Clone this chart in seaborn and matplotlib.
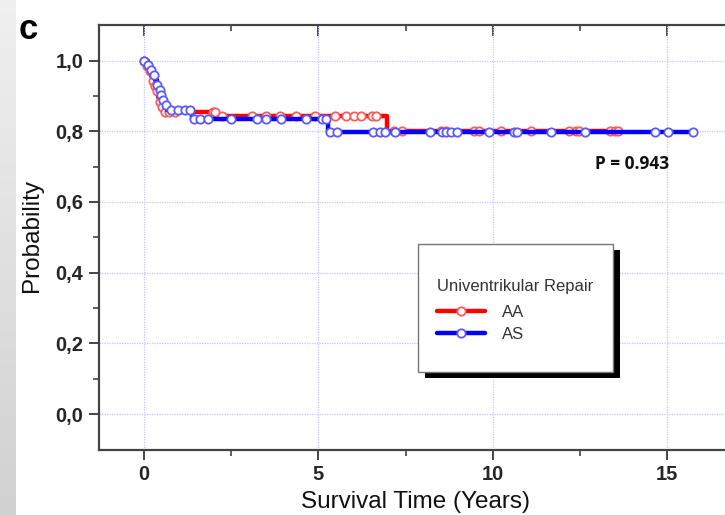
import numpy as np
import pandas as pd
import matplotlib
matplotlib.use("Agg")
import matplotlib.pyplot as plt
import seaborn as sns
from matplotlib.lines import Line2D
from matplotlib.patches import Rectangle

# ---------------- data ----------------
aa_event_t = [0.0, 0.07, 0.14, 0.20, 0.25, 0.30, 0.35, 0.40, 0.45, 0.50, 0.55, 2.10, 6.97]
aa_surv = [1.000, 0.985, 0.971, 0.956, 0.942, 0.927, 0.913, 0.898, 0.884, 0.869, 0.855, 0.844, 0.800]
aa_end = 13.65
aa_censor = [0.02, 0.08, 0.18, 0.25, 0.32, 0.37, 0.46, 0.52, 0.60, 0.72, 0.90, 1.98, 2.03,
             2.23, 3.11, 3.50, 3.89, 4.37, 4.90, 5.49, 5.80, 6.03, 6.23, 6.54, 6.66,
             7.17, 7.40, 8.51, 8.66, 9.46, 9.60, 10.23, 11.09, 12.17, 12.37, 12.46,
             13.37, 13.51, 13.60]

as_event_t = [0.0, 0.12, 0.20, 0.26, 0.32, 0.38, 0.44, 0.48, 0.53, 0.60, 0.66, 1.37, 5.29]
as_surv = [1.000, 0.986, 0.972, 0.958, 0.944, 0.930, 0.916, 0.902, 0.888, 0.874, 0.860, 0.834, 0.797]
as_end = 15.74
as_censor = [0.0, 0.13, 0.22, 0.28, 0.38, 0.45, 0.49, 0.54, 0.64, 0.79, 0.97, 1.17, 1.33,
             1.43, 1.60, 1.83, 2.51, 3.23, 3.51, 3.94, 4.66, 5.11, 5.23,
             5.33, 5.55, 6.57, 6.77, 6.92, 7.20, 8.20, 8.54, 8.66, 8.80, 8.97, 9.89,
             10.60, 10.69, 11.66, 12.63, 14.66, 15.03, 15.74]

group_names = ["AA", "AS"]
legend_title = "Univentrikular Repair"
x_ticks = [0, 5, 10, 15]
x_ticklabels = ["0", "5", "10", "15"]
y_ticks = [0.0, 0.2, 0.4, 0.6, 0.8, 1.0]
y_ticklabels = ["0,0", "0,2", "0,4", "0,6", "0,8", "1,0"]
p_text = "P = 0.943"
panel_label = "c"


def curve_frame(times, surv, end):
    t = list(times) + [end]
    s = list(surv) + [surv[-1]]
    return pd.DataFrame({"t": t, "s": s})


def censor_frame(times, surv, cens):
    times = np.asarray(times)
    surv = np.asarray(surv)
    idx = np.searchsorted(times, cens, side="right") - 1
    return pd.DataFrame({"t": cens, "s": surv[idx]})


# ---------------- figure ----------------
sns.set_theme(style="white")
plt.rcParams["font.family"] = ["Liberation Sans", "DejaVu Sans"]

W, H = 725, 515
fig = plt.figure(figsize=(W / 100, H / 100), dpi=100)
fig.patch.set_facecolor("white")

# grey strip on the left edge
sax = fig.add_axes([0, 0, 16 / W, 1])
grad = np.linspace(0.94, 0.82, 256)[:, None]
sax.imshow(np.dstack([grad, grad, grad]), aspect="auto", extent=[0, 1, 0, 1])
sax.set_axis_off()

left_px, right_px, top_px, bot_px = 98.5, 760, 25, 450
ax = fig.add_axes([left_px / W, (H - bot_px) / H, (right_px - left_px) / W, (bot_px - top_px) / H])
ax.set_facecolor("white")

red_line, blue_line = "#ff0000", "#0000ff"
red_mk, blue_mk = "#ff5a5a", "#5a5aff"

aa_df = curve_frame(aa_event_t, aa_surv, aa_end)
as_df = curve_frame(as_event_t, as_surv, as_end)
aa_c = censor_frame(aa_event_t, aa_surv, aa_censor)
as_c = censor_frame(as_event_t, as_surv, as_censor)

sns.lineplot(data=aa_df, x="t", y="s", ax=ax, color=red_line, lw=3.2,
             drawstyle="steps-post", estimator=None, sort=False, zorder=3)
sns.scatterplot(data=aa_c, x="t", y="s", ax=ax, marker="o", s=36, color="white",
                edgecolor=red_mk, linewidth=1.3, zorder=4)
sns.lineplot(data=as_df, x="t", y="s", ax=ax, color=blue_line, lw=3.2,
             drawstyle="steps-post", estimator=None, sort=False, zorder=5)
sns.scatterplot(data=as_c, x="t", y="s", ax=ax, marker="o", s=36, color="white",
                edgecolor=blue_mk, linewidth=1.3, zorder=6)

x0_px, px_per_year = 143.8, 34.9
ax.set_xlim((left_px - x0_px) / px_per_year, (right_px - x0_px) / px_per_year)
y0_px, px_per_unit = 414.2, 353.7
ax.set_ylim((y0_px - bot_px) / px_per_unit, 1 + (y0_px - px_per_unit - top_px) / px_per_unit)

ax.set_xticks(x_ticks)
ax.set_xticklabels(x_ticklabels)
ax.set_xticks([2.5, 7.5, 12.5], minor=True)
ax.set_yticks(y_ticks)
ax.set_yticklabels(y_ticklabels)
ax.set_yticks([0.1, 0.3, 0.5, 0.7, 0.9], minor=True)

ax.grid(True, which="major", color="#c4c4ff", linestyle=(0, (1, 1)), linewidth=0.9)
ax.set_axisbelow(True)

for side in ["left", "bottom", "top"]:
    ax.spines[side].set_visible(True)
    ax.spines[side].set_color("#444444")
    ax.spines[side].set_linewidth(1.6)
ax.spines["right"].set_visible(False)

ax.tick_params(axis="both", which="major", direction="out", length=7, width=1.4,
               color="#444444", labelsize=14.5, pad=4)
ax.tick_params(axis="both", which="minor", direction="out", length=4, width=1.2,
               color="#444444")
ax.tick_params(axis="x", which="both", bottom=True, top=False)
ax.tick_params(axis="y", which="both", left=True, right=False)
for lab in ax.get_xticklabels() + ax.get_yticklabels():
    lab.set_fontweight("bold")

# inward ticks on the top spine
top = ax.secondary_xaxis("top")
top.set_xticks(x_ticks)
top.set_xticks([2.5, 7.5, 12.5], minor=True)
top.tick_params(axis="x", which="major", direction="in", length=8, width=1.4,
                color="#444444", labeltop=False)
top.tick_params(axis="x", which="minor", direction="in", length=4, width=1.2,
                color="#444444")
top.spines["top"].set_visible(False)

ax.set_xlabel("Survival Time (Years)", fontsize=17.5, color="#111111")
ax.set_ylabel("Probability", fontsize=17.5, color="#111111")
ax.xaxis.set_label_coords((415 - left_px) / (right_px - left_px), -(491 - bot_px) / (bot_px - top_px))
ax.yaxis.set_label_coords(-(left_px - 43) / (right_px - left_px), (bot_px - 236) / (bot_px - top_px))

# legend box with shadow
bx0, by0, bx1, by1 = 418, 244, 613, 372
ax.add_patch(Rectangle(((bx0 + 7) / W, (H - by1 - 6) / H), (bx1 - bx0) / W, (by1 - by0) / H,
                       transform=fig.transFigure, facecolor="black", edgecolor="none",
                       clip_on=False, zorder=8))
ax.add_patch(Rectangle((bx0 / W, (H - by1) / H), (bx1 - bx0) / W, (by1 - by0) / H,
                       transform=fig.transFigure, facecolor="white", edgecolor="#777777",
                       linewidth=1.0, clip_on=False, zorder=9))
handles = [
    Line2D([0], [0], color=red_line, lw=3.2, marker="o", markersize=6,
           markerfacecolor="white", markeredgecolor=red_mk, markeredgewidth=1.3),
    Line2D([0], [0], color=blue_line, lw=3.2, marker="o", markersize=6,
           markerfacecolor="white", markeredgecolor=blue_mk, markeredgewidth=1.3),
]
leg = ax.legend(handles, group_names, title=legend_title, frameon=False,
                loc="upper left", bbox_to_anchor=(437 / W, (H - 279) / H),
                bbox_transform=fig.transFigure, fontsize=12, title_fontsize=12,
                handlelength=2.9, handletextpad=1.0, labelspacing=0.42,
                alignment="left", borderpad=0, borderaxespad=0)
leg._legend_box.sep = 8
leg.get_title().set_color("#333333")
for t in leg.get_texts():
    t.set_color("#333333")
leg.set_zorder(10)

fig.text(595 / W, 1 - 164 / H, p_text, fontsize=12.5, fontweight="bold",
         family=["Open Sans", "DejaVu Sans"], va="center", ha="left", color="#111111")
fig.text(19 / W, 1 - 39 / H, panel_label, fontsize=25, fontweight="bold",
         va="baseline", ha="left", color="black")

fig.savefig("out.png", dpi=100)
